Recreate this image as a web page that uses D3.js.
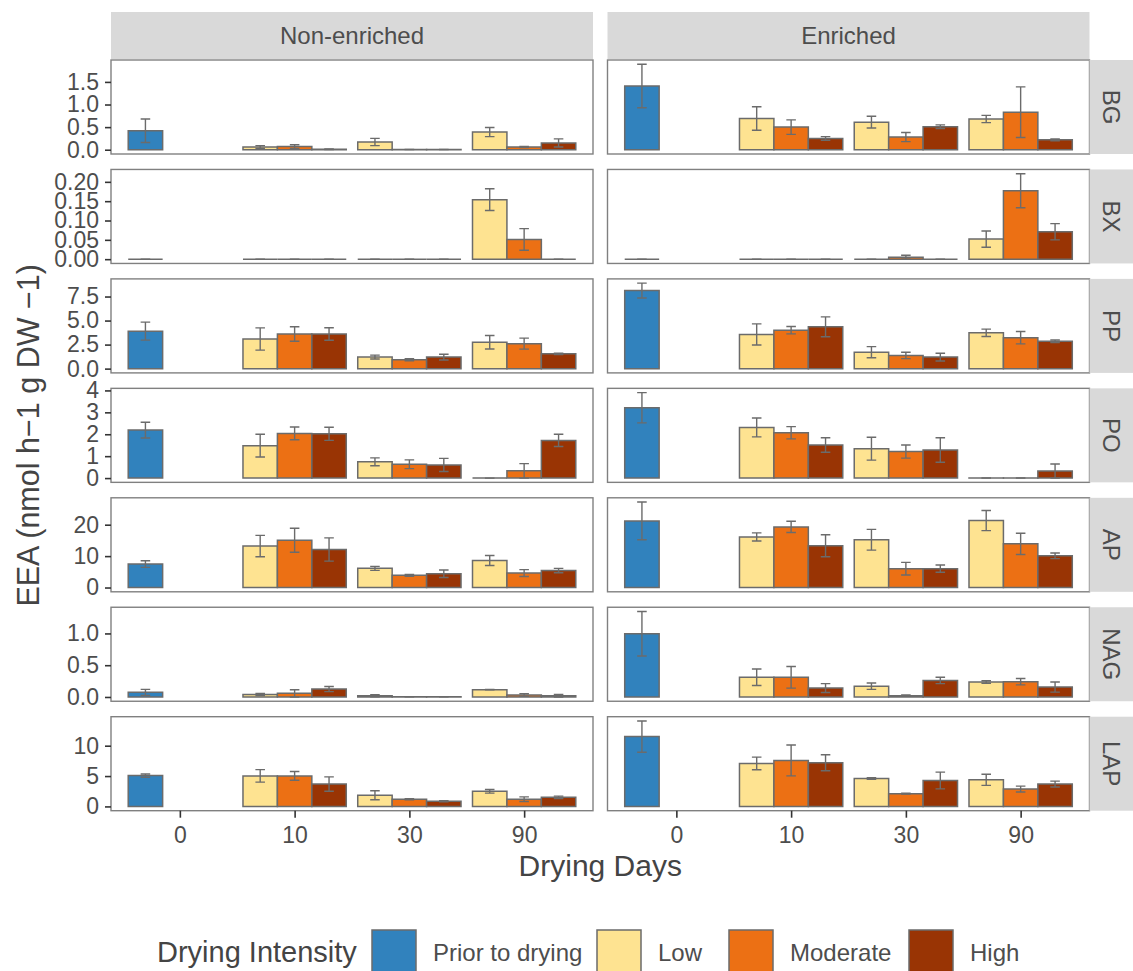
<!DOCTYPE html>
<html>
<head>
<meta charset="utf-8">
<script src="https://cdn.jsdelivr.net/npm/d3@7"></script>
<style>
  html, body { margin: 0; padding: 0; background: #fff; }
  svg { display: block; font-family: "Liberation Sans", Arial, Helvetica, sans-serif; }
</style>
</head>
<body>
<svg id="chart" width="1133" height="971"></svg>
<script>
// Facets, categories and fill groups
const enzymes = ["BG", "BX", "PP", "PO", "AP", "NAG", "LAP"];
const treatments = ["Non-enriched", "Enriched"];
const days = ["0", "10", "30", "90"];
const intensities = ["Prior to drying", "Low", "Moderate", "High"];
const fills = ["#3182BD", "#FEE391", "#EC7014", "#993404"];

// Each row: [prior, d10 Low, d10 Moderate, d10 High, d30 Low, d30 Moderate, d30 High, d90 Low, d90 Moderate, d90 High]
// first row = Non-enriched, second row = Enriched
const BG_mean  = [[0.42, 0.06, 0.07, 0.01, 0.17, 0.005, 0.005, 0.39, 0.06, 0.15],
                  [1.41, 0.69, 0.50, 0.25, 0.61, 0.28, 0.51, 0.68, 0.83, 0.22]];
const BG_se    = [[0.26, 0.03, 0.04, 0.005, 0.08, 0.003, 0.003, 0.10, 0.01, 0.09],
                  [0.48, 0.26, 0.16, 0.04, 0.13, 0.10, 0.04, 0.08, 0.56, 0.02]];
const BX_mean  = [[0, 0, 0, 0, 0, 0, 0, 0.154, 0.051, 0],
                  [0, 0, 0, 0, 0, 0.005, 0, 0.052, 0.177, 0.071]];
const BX_se    = [[0, 0, 0, 0, 0, 0, 0, 0.028, 0.028, 0],
                  [0, 0, 0, 0, 0, 0.005, 0, 0.021, 0.044, 0.021]];
const PP_mean  = [[3.9, 3.08, 3.6, 3.6, 1.2, 0.92, 1.2, 2.74, 2.6, 1.54],
                  [8.12, 3.56, 4.0, 4.35, 1.71, 1.37, 1.2, 3.73, 3.22, 2.84]];
const PP_se    = [[0.94, 1.16, 0.75, 0.65, 0.2, 0.1, 0.3, 0.7, 0.57, 0.07],
                  [0.77, 1.1, 0.38, 1.03, 0.58, 0.33, 0.4, 0.38, 0.65, 0.14]];
const PO_mean  = [[2.19, 1.48, 2.04, 2.02, 0.74, 0.63, 0.6, 0.0, 0.33, 1.72],
                  [3.21, 2.31, 2.07, 1.51, 1.34, 1.21, 1.28, 0.005, 0.005, 0.32]];
const PO_se    = [[0.36, 0.52, 0.29, 0.3, 0.18, 0.2, 0.3, 0.0, 0.33, 0.28],
                  [0.69, 0.43, 0.28, 0.33, 0.52, 0.3, 0.56, 0.005, 0.005, 0.32]];
const AP_mean  = [[7.47, 13.2, 15.05, 12.1, 6.1, 3.9, 4.4, 8.6, 4.6, 5.4],
                  [21.2, 16.1, 19.3, 13.3, 15.2, 6.0, 6.0, 21.3, 13.9, 10.1]];
const AP_se    = [[1.05, 3.4, 3.8, 3.7, 0.63, 0.3, 1.2, 1.6, 1.1, 0.7],
                  [6.0, 1.3, 1.8, 3.5, 3.3, 2.0, 1.15, 3.2, 3.4, 0.9]];
const NAG_mean = [[0.073, 0.04, 0.057, 0.125, 0.02, 0.003, 0.003, 0.115, 0.03, 0.02],
                  [0.995, 0.31, 0.31, 0.14, 0.17, 0.02, 0.26, 0.235, 0.24, 0.156]];
const NAG_se   = [[0.047, 0.016, 0.057, 0.04, 0.016, 0.002, 0.002, 0.004, 0.02, 0.02],
                  [0.35, 0.13, 0.17, 0.07, 0.05, 0.01, 0.05, 0.02, 0.05, 0.08]];
const LAP_mean = [[5.08, 5.03, 5.03, 3.68, 1.84, 1.19, 0.86, 2.49, 1.19, 1.5],
                  [11.5, 7.08, 7.57, 7.19, 4.59, 2.1, 4.27, 4.38, 2.86, 3.68]];
const LAP_se   = [[0.27, 1.03, 0.73, 1.19, 0.73, 0.1, 0.1, 0.3, 0.38, 0.19],
                  [2.57, 1.03, 2.54, 1.32, 0.14, 0.08, 1.38, 0.92, 0.49, 0.49]];

// Y tick values and labels per enzyme row
const BG_ticks  = [0, 0.5, 1.0, 1.5];          const BG_labels  = ["0.0", "0.5", "1.0", "1.5"];
const BX_ticks  = [0, 0.05, 0.10, 0.15, 0.20]; const BX_labels  = ["0.00", "0.05", "0.10", "0.15", "0.20"];
const PP_ticks  = [0, 2.5, 5.0, 7.5];          const PP_labels  = ["0.0", "2.5", "5.0", "7.5"];
const PO_ticks  = [0, 1, 2, 3, 4];             const PO_labels  = ["0", "1", "2", "3", "4"];
const AP_ticks  = [0, 10, 20];                 const AP_labels  = ["0", "10", "20"];
const NAG_ticks = [0, 0.5, 1.0];               const NAG_labels = ["0.0", "0.5", "1.0"];
const LAP_ticks = [0, 5, 10];                  const LAP_labels = ["0", "5", "10"];

const rowMeans  = [BG_mean, BX_mean, PP_mean, PO_mean, AP_mean, NAG_mean, LAP_mean];
const rowSes    = [BG_se, BX_se, PP_se, PO_se, AP_se, NAG_se, LAP_se];
const rowTicks  = [BG_ticks, BX_ticks, PP_ticks, PO_ticks, AP_ticks, NAG_ticks, LAP_ticks];
const rowLabels = [BG_labels, BX_labels, PP_labels, PO_labels, AP_labels, NAG_labels, LAP_labels];

// Turn one row of 10 values into bar records (day, intensity, slot in dodge)
function records(means, ses) {
  const out = [{ day: "0", group: 0, slot: 0, mean: means[0], se: ses[0] }];
  for (let d = 0; d < 3; d++) {
    for (let k = 0; k < 3; k++) {
      const i = 1 + d * 3 + k;
      out.push({ day: days[d + 1], group: k + 1, slot: k, mean: means[i], se: ses[i] });
    }
  }
  return out;
}

// Layout
const panelX = [111, 607.5];
const panelW = 482;
const panelTop0 = 60;
const panelStep = 109.45;
const panelH = 94;
const stripTop = 12, stripH = 47;
const rStripX = 1089.5, rStripW = 43.5;

const barStroke = "#6b6b6b";
const borderCol = "#808080";
const textCol = "#4d4d4d";
const titleCol = "#444";
const tickFont = 23, stripFont = 24, titleFont = 30, legendFont = 24;

const svg = d3.select("#chart");
svg.append("rect").attr("width", 1133).attr("height", 971).attr("fill", "#fff");

// Column strips
treatments.forEach((t, c) => {
  svg.append("rect")
    .attr("x", panelX[c]).attr("y", stripTop)
    .attr("width", panelW).attr("height", stripH)
    .attr("fill", "#d9d9d9");
  svg.append("text")
    .attr("x", panelX[c] + panelW / 2).attr("y", stripTop + stripH / 2)
    .attr("text-anchor", "middle").attr("dominant-baseline", "central")
    .attr("font-size", stripFont).attr("fill", textCol)
    .text(t);
});

enzymes.forEach((enz, r) => {
  const top = panelTop0 + r * panelStep;
  const bottom = top + panelH;

  // y domain shared across the row (free per row), with 5% expansion
  const all = rowMeans[r].flatMap((m, c) => m.map((v, i) => [v + rowSes[r][c][i], v - rowSes[r][c][i]]));
  const hi = d3.max(all, d => d[0]);
  const lo = Math.min(0, d3.min(all, d => d[1]));
  const pad = (hi - lo) * 0.05;
  const y = d3.scaleLinear().domain([lo - pad, hi + pad]).range([bottom, top]);

  treatments.forEach((t, c) => {
    const px = panelX[c];
    const x = d3.scalePoint().domain(days).range([px, px + panelW]).padding(0.6);
    const step = x.step();
    const slot = d3.scaleBand().domain([0, 1, 2]).range([-0.45 * step, 0.45 * step]).padding(0);
    const bw = slot.bandwidth();
    const capW = step * 0.25 / 3;

    const g = svg.append("g");
    const data = records(rowMeans[r][c], rowSes[r][c]);

    g.selectAll("path.bar").data(data).enter().append("path")
      .attr("class", "bar")
      .attr("d", d => {
        const x0 = x(d.day) + slot(d.slot);
        const x1 = x0 + bw;
        return `M${x0},${y(0)}V${y(d.mean)}H${x1}V${y(0)}Z`;
      })
      .attr("fill", d => fills[d.group])
      .attr("stroke", barStroke).attr("stroke-width", 1.5);

    const eb = g.selectAll("g.eb").data(data).enter().append("g").attr("class", "eb")
      .attr("stroke", barStroke).attr("stroke-width", 1.4).attr("fill", "none");
    eb.append("path").attr("d", d => {
      const cx = x(d.day) + slot(d.slot) + bw / 2;
      const yt = y(d.mean + d.se), yb = y(d.mean - d.se);
      return `M${cx},${yt}V${yb}M${cx - capW / 2},${yt}H${cx + capW / 2}M${cx - capW / 2},${yb}H${cx + capW / 2}`;
    });

    // panel border
    svg.append("rect")
      .attr("x", px).attr("y", top).attr("width", panelW).attr("height", panelH)
      .attr("fill", "none").attr("stroke", borderCol).attr("stroke-width", 1.4);

    // y axis on left column
    if (c === 0) {
      const ax = svg.append("g").attr("transform", `translate(${px},0)`)
        .call(d3.axisLeft(y).tickValues(rowTicks[r])
          .tickFormat((d, i) => rowLabels[r][i]).tickSize(6).tickPadding(6));
      ax.select(".domain").remove();
      ax.selectAll("line").attr("stroke", "#333").attr("stroke-width", 1.6);
      ax.selectAll("text").attr("font-size", tickFont).attr("fill", textCol)
        .attr("font-family", "Liberation Sans, Arial, sans-serif");
    }

    // x axis on the bottom row
    if (r === enzymes.length - 1) {
      const ax = svg.append("g").attr("transform", `translate(0,${bottom})`)
        .call(d3.axisBottom(x).tickSize(7).tickPadding(9));
      ax.select(".domain").remove();
      ax.selectAll("line").attr("stroke", "#333").attr("stroke-width", 1.6);
      ax.selectAll("text").attr("font-size", tickFont).attr("fill", textCol)
        .attr("font-family", "Liberation Sans, Arial, sans-serif");
    }
  });

  // row strip on the right
  svg.append("rect")
    .attr("x", rStripX).attr("y", top).attr("width", rStripW).attr("height", panelH)
    .attr("fill", "#d9d9d9");
  svg.append("text")
    .attr("transform", `translate(${rStripX + rStripW / 2},${top + panelH / 2}) rotate(90)`)
    .attr("text-anchor", "middle").attr("dominant-baseline", "central")
    .attr("font-size", stripFont).attr("fill", textCol)
    .text(enz);
});

// Axis titles
svg.append("text")
  .attr("transform", `translate(28,${(panelTop0 + panelTop0 + 6 * panelStep + panelH) / 2}) rotate(-90)`)
  .attr("text-anchor", "middle").attr("dominant-baseline", "central")
  .attr("font-size", titleFont + 0.5).attr("fill", titleCol)
  .text("EEA (nmol h\u22121 g DW \u22121)");

svg.append("text")
  .attr("x", (panelX[0] + panelX[1] + panelW) / 2).attr("y", 876)
  .attr("text-anchor", "middle")
  .attr("font-size", titleFont).attr("fill", titleCol)
  .text("Drying Days");

// Legend
const legend = svg.append("g");
legend.append("text").attr("x", 157).attr("y", 962)
  .attr("font-size", titleFont - 1).attr("fill", titleCol).text("Drying Intensity");
const keyX = [372, 597, 729, 909];
const keySize = 44;
intensities.forEach((lab, i) => {
  legend.append("rect")
    .attr("x", keyX[i]).attr("y", 930).attr("width", keySize).attr("height", keySize)
    .attr("fill", fills[i]).attr("stroke", barStroke).attr("stroke-width", 1.5);
  legend.append("text")
    .attr("x", keyX[i] + keySize + 17).attr("y", 961)
    .attr("font-size", legendFont).attr("fill", textCol).text(lab);
});
</script>
</body>
</html>
